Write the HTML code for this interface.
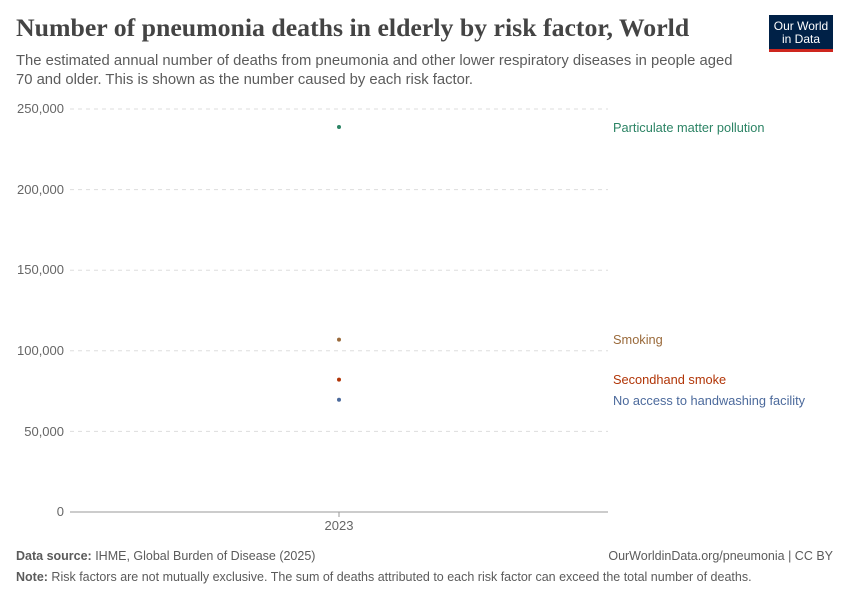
<!DOCTYPE html>
<html><head><meta charset="utf-8"><style>
body{margin:0;width:850px;height:600px;background:#fff;font-family:"Liberation Sans",sans-serif;position:relative;overflow:hidden}
.t{position:absolute;white-space:nowrap}
</style></head><body>
<div class="t" style="left:16px;top:13px;font-family:'Liberation Serif',serif;font-size:25.8px;font-weight:bold;color:#444">Number of pneumonia deaths in elderly by risk factor, World</div>
<div class="t" style="left:16px;top:52px;font-size:14.8px;color:#5b5b5b;line-height:19px">The estimated annual number of deaths from pneumonia and other lower respiratory diseases in people aged<br>70 and older. This is shown as the number caused by each risk factor.</div>
<div style="position:absolute;left:769px;top:15px;width:64px;background:#002147;border-bottom:3px solid #ce261e;color:#fff;font-size:12px;text-align:center;line-height:13px;padding-top:5px;box-sizing:border-box;height:37px">Our World<br>in Data</div>
<svg width="850" height="600" style="position:absolute;left:0;top:0" font-family="Liberation Sans, sans-serif">
<g stroke="#ddd" stroke-dasharray="4,4">
<line x1="70" x2="608" y1="109" y2="109"/><line x1="70" x2="608" y1="189.6" y2="189.6"/><line x1="70" x2="608" y1="270.2" y2="270.2"/><line x1="70" x2="608" y1="350.8" y2="350.8"/><line x1="70" x2="608" y1="431.4" y2="431.4"/>
</g>
<line x1="70" x2="608" y1="512" y2="512" stroke="#999"/>
<line x1="339" x2="339" y1="512" y2="517" stroke="#999"/>
<g font-size="13" fill="#666" text-anchor="end">
<text x="64" y="113">250,000</text><text x="64" y="194">200,000</text><text x="64" y="274">150,000</text><text x="64" y="355">100,000</text><text x="64" y="436">50,000</text><text x="64" y="516">0</text>
</g>
<text x="339" y="530" font-size="13" fill="#666" text-anchor="middle">2023</text>
<circle cx="339" cy="127" r="2" fill="#2c8465"/>
<circle cx="339" cy="339.6" r="2" fill="#9a6a3b"/>
<circle cx="339" cy="379.6" r="2" fill="#b13507"/>
<circle cx="339" cy="399.8" r="2" fill="#4c6a9c"/>
<g font-size="12.8">
<text x="613" y="132" fill="#2c8465">Particulate matter pollution</text>
<text x="613" y="344" fill="#9a6a3b">Smoking</text>
<text x="613" y="384" fill="#b13507">Secondhand smoke</text>
<text x="613" y="405" fill="#4c6a9c">No access to handwashing facility</text>
</g>
<g font-size="12.5" fill="#5b5b5b">
<text x="16" y="560"><tspan font-weight="bold">Data source:</tspan> IHME, Global Burden of Disease (2025)</text>
<text x="833" y="560" text-anchor="end">OurWorldinData.org/pneumonia | CC BY</text>
<text x="16" y="581"><tspan font-weight="bold">Note:</tspan> Risk factors are not mutually exclusive. The sum of deaths attributed to each risk factor can exceed the total number of deaths.</text>
</g>
</svg>
</body></html>
